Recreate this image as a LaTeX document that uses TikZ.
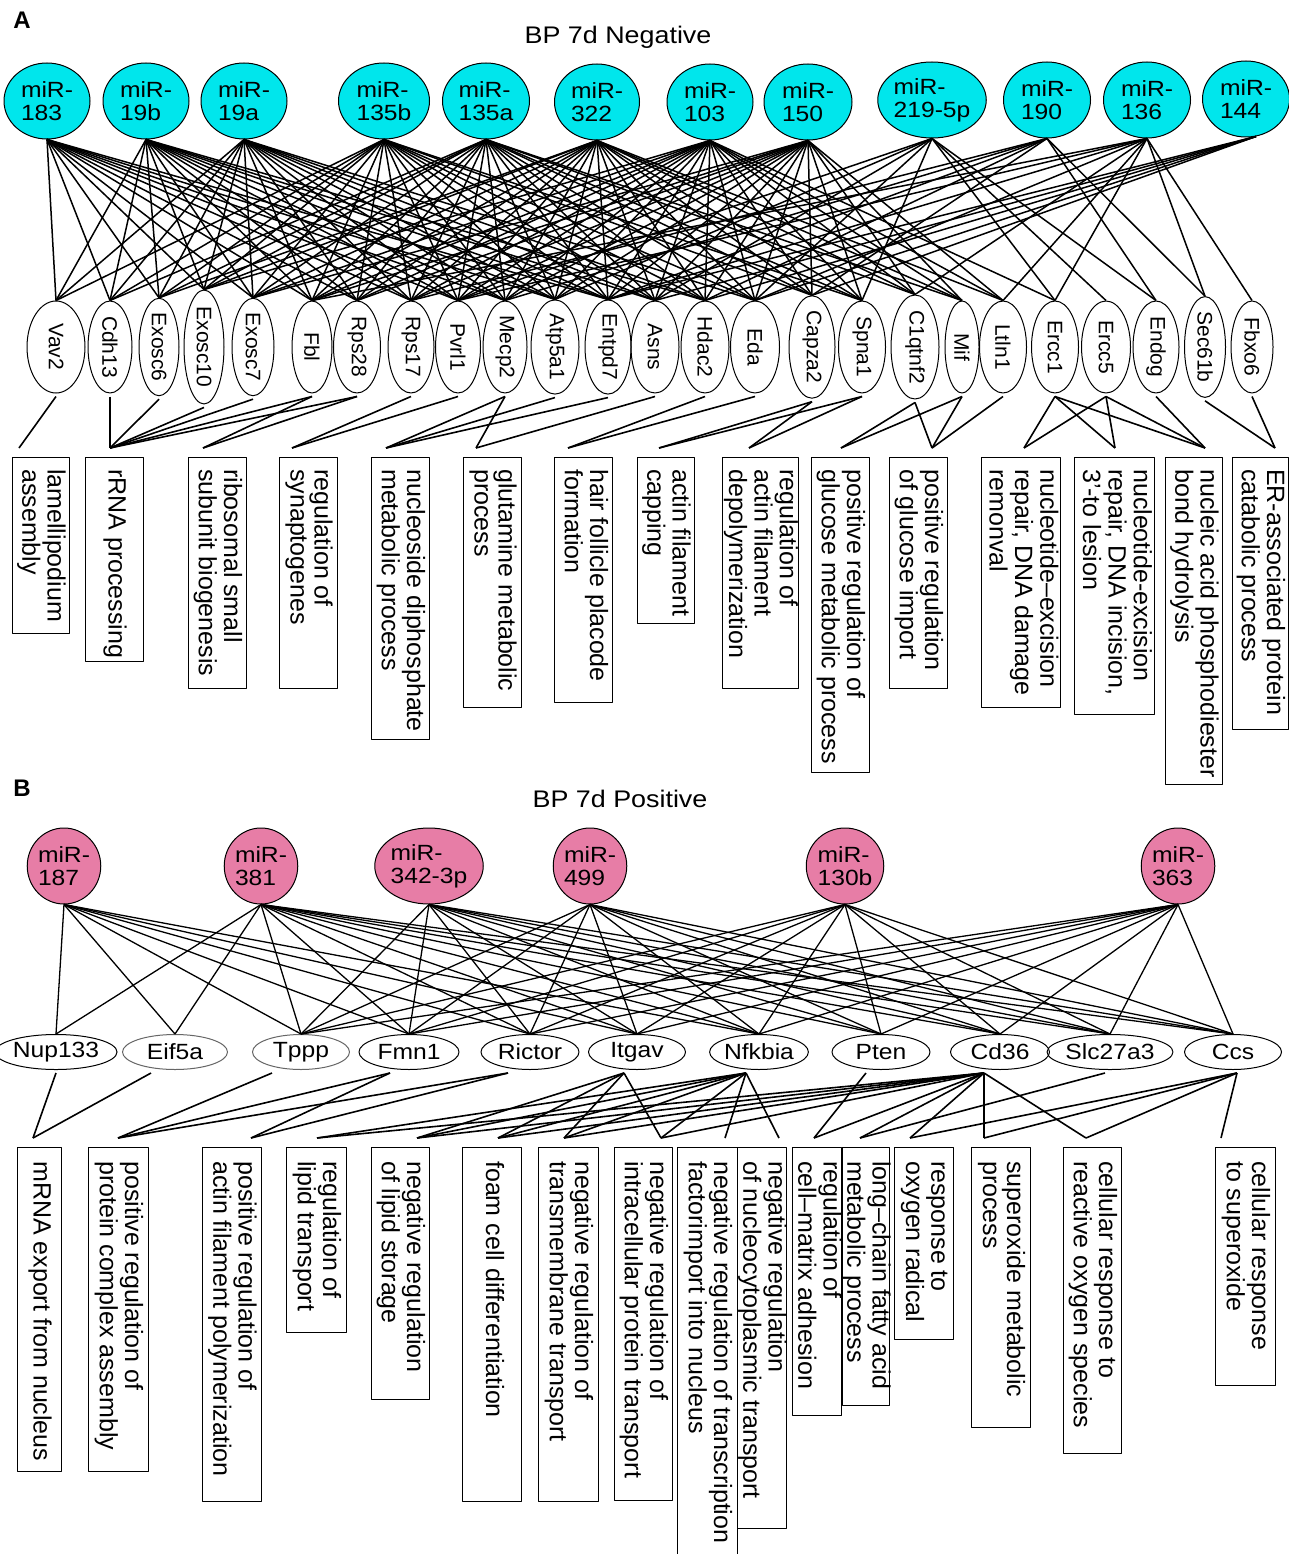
\documentclass[tikz,border=0pt]{standalone}
\usepackage{fontspec}
\setmainfont{Liberation Sans}
\newfontfamily\widefont[FakeStretch=1.12]{Liberation Sans}
\usetikzlibrary{shapes.geometric,calc}
\definecolor{mircyan}{RGB}{0,230,236}
\definecolor{mirpink}{RGB}{231,125,166}
\newcommand{\tlines}[1]{\begin{tabular}{@{}l@{}}#1\end{tabular}}
\begin{document}
\begin{tikzpicture}[x=1pt,y=-1pt,line join=round,
  mirA/.style={ellipse,draw,fill=mircyan,line width=1pt,inner sep=0pt,align=left,font=\widefont\fontsize{22}{23}\selectfont},
  mirB/.style={ellipse,draw,fill=mirpink,line width=1pt,inner sep=0pt,align=left,font=\widefont\fontsize{22}{23}\selectfont},
  geneA/.style={ellipse,draw,rotate=-90,line width=1pt,inner sep=0pt,minimum width=92pt,font=\fontsize{21}{21}\selectfont},
  geneB/.style={ellipse,draw,line width=1pt,inner sep=0pt,minimum height=35pt,font=\widefont\fontsize{22}{22}\selectfont},
  termbox/.style={draw,line width=1pt,inner sep=0pt,anchor=north},
  termtext/.style={rotate=-90,anchor=west,inner sep=0pt,font=\fontsize{25}{24}\selectfont},
  edgeA/.style={line width=1.5pt},
  edgeB/.style={line width=1.3pt},
  edgeT/.style={line width=1.6pt},
  ttl/.style={font=\widefont\fontsize{24}{24}\selectfont},
  panel/.style={font=\fontsize{24}{24}\selectfont\bfseries}
]
\fill[white] (0,0) rectangle (1289,1554);
\useasboundingbox (0,0) rectangle (1289,1554);

% ---------------- Panel A ----------------
\node[panel] (pA) at (22,20) {A};
\node[ttl] (tiA) at (618,37) {BP 7d Negative};

\foreach \n/\x/\y/\w/\t in {
 1/47/101/86/{miR-\\183},
 2/146/101/86/{miR-\\19b},
 3/244/101/86/{miR-\\19a},
 4/384/101/91/{miR-\\135b},
 5/486/101/87/{miR-\\135a},
 6/597/102/85/{miR-\\322},
 7/710/102/86/{miR-\\103},
 8/808/102/88/{miR-\\150},
 9/932/100/106/{miR-\\219-5p},
 10/1047/100/87/{miR-\\190},
 11/1147/100/87/{miR-\\136},
 12/1246/99/87/{miR-\\144}}
 \node[mirA,minimum width=\w pt,minimum height=76pt] (mA\n) at (\x,\y) {\t};

\foreach \i/\x/\w/\t in {
 1/56/58/Vav2, 2/110/44/Cdh13, 3/159/40/Exosc6, 4/204/40/Exosc10, 5/253/42/Exosc7,
 6/312/40/Fbl, 7/357/47/Rps28, 8/411/46/Rps17, 9/458/45/Pvrl1, 10/505/44/Mecp2,
 11/555/48/Atp5a1, 12/608/46/Entpd7, 13/655/48/Asns, 14/705/48/Hdac2, 15/755/49/Eda,
 16/812/46/Capza2, 17/862/47/Spna1, 18/915/48/C1qtnf2, 19/962/34/Mif, 20/1003/47/Ltln1,
 21/1055/47/Ercc1, 22/1106/49/Ercc5, 23/1156/46/Endog, 24/1205/41/Sec61b, 25/1252/42/Fbxo6}
 {
 \node[geneA,minimum height=\w pt] (gA\i) at (\x,347) {\t};
 \coordinate (sA\i) at ($(gA\i.east)+(0,3)$);
 }

% miRNA -> gene (panel A)
\foreach \m/\gs in {
 1/{1,2,3,4,5,6,7,8,9,10,11,12},
 2/{1,2,3,4,5,6,7,8,9,10,11,12,13,14},
 3/{1,2,3,4,5,6,7,8,9,10,11,12,13,14,15},
 4/{1,2,3,4,5,6,7,8,9,10,11,12,13,14,15,16,17},
 5/{2,3,4,5,6,7,8,9,10,11,12,13,14,15,16,17,18,19},
 6/{3,4,5,6,7,8,9,10,11,12,13,14,15,16,17,18,19,20},
 7/{4,5,6,7,8,9,10,11,12,13,14,15,16,17,18,19,20,21},
 8/{5,6,7,8,9,10,11,12,13,14,15,16,17,18,19,20},
 9/{9,11,13,15,17,21,22,23},
 10/{8,10,12,14,16,23,24},
 11/{6,9,12,15,18,20,21,24,25}}
 {\foreach \g in \gs {\draw[edgeA] (mA\m.south) -- (gA\g.west);}}
\foreach \g in {12,13,14,15,16}
 \draw[edgeA] (mA12.-75) -- (gA\g.west);

% terms A
\foreach \k/\x/\w/\b/\t in {
 1/40.5/57/633/{lamellipodium\\assembly},
 2/114/58/661/{rRNA processing},
 3/217/58/688/{ribosomal small\\subunit biogenesis},
 4/308/58/688/{regulation of\\synaptogenes},
 5/400/58/739/{nucleoside diphosphate\\metabolic process},
 6/492/58/707/{glutamine metabolic\\process},
 7/583/58/702/{hair follicle placode\\formation},
 8/665.5/57/623/{actin filament\\capping},
 9/760/76/688/{regulation of\\actin filament\\depolymerization},
 10/840/58/772/{positive regulation of\\glucose metabolic process},
 11/918/58/688/{positive regulation\\of glucose import},
 12/1020.5/79/707/{nucleotide–excision\\repair, DNA damage\\remonval},
 13/1114/80/714/{nucleotide-excision\\repair, DNA incision,\\3’-to lesion},
 14/1193.5/57/784/{nucleic acid phosphodiester\\bond hydrolysis},
 15/1260/56/729/{ER-associated protein\\catabolic process}}
 {
 \node[termbox,minimum width=\w pt,minimum height={(\b-457)*1pt}] (tA\k) at (\x,457) {};
 \node[termtext] (xA\k) at ($(tA\k.north)+(0,12)$) {\tlines{\t}};
 }

\foreach \k/\x in {1/19,2/110,3/203,4/292,5/386,6/476,7/568,8/659,9/749,10/841,11/932,12/1024,13/1115,14/1205,15/1275}
 \coordinate (cA\k) at (\x,448);

\foreach \g/\t in {1/1, 2/2, 3/2, 4/2, 5/2, 6/2, 7/2, 6/3, 7/3, 8/4, 9/4, 10/5, 11/5, 12/5,
 10/6, 13/6, 14/7, 15/7, 16/8, 17/8, 16/9, 17/9, 18/10, 19/10, 18/11, 19/11, 20/11,
 21/12, 22/12, 21/13, 22/13, 21/14, 22/14, 23/14, 24/15, 25/15}
 \draw[edgeT] (sA\g) -- (cA\t);

% ---------------- Panel B ----------------
\node[panel] (pB) at (22,788) {B};
\node[ttl] (tiB) at (620,799) {BP 7d Positive};

\foreach \n/\x/\w/\t in {
 1/64/64/{miR-\\187},
 2/261/61/{miR-\\381},
 3/429/92/{miR-\\342-3p},
 4/590/64/{miR-\\499},
 5/845/72/{miR-\\130b},
 6/1178/65/{miR-\\363}}
 \node[mirB,minimum width=\w pt,minimum height=76pt] (mB\n) at (\x,866) {\t};

\foreach \i/\x/\w/\t/\dx/\c in {
 1/56/96/Nup133/0/black, 2/175/105/Eif5a/-24/black!60, 3/301/97/Tppp/-29/black!60, 4/409/100/Fmn1/-19/black,
 5/530/98/Rictor/-22/black, 6/637/97/Itgav/-13/black, 7/759/98/Nfkbia/-13/black, 8/881/98/Pten/-15/black,
 9/1000/99/Cd36/-16/black, 10/1110/99/Slc27a3/-5/black, 11/1233/97/Ccs/4/black}
 {
 \node[geneB,draw=\c,minimum width=\w pt] (gB\i) at (\x,1052) {\t};
 \coordinate (sB\i) at ($(gB\i.south)+(\dx,3)$);
 }

\foreach \m/\gs in {
 1/{1,2,3,4,5,6,7},
 2/{1,2,3,4,5,6,7,8,9,10,11},
 3/{3,4,5,6,7,8,9,10,11},
 4/{3,4,5,6,7,8,9,10,11},
 5/{3,4,5,6,7,8,9,10,11},
 6/{3,4,5,6,7,8,9,10,11}}
 {\foreach \g in \gs {\draw[edgeB] (mB\m.south) -- (gB\g.north);}}

\foreach \k/\x/\w/\b/\t in {
 1/39/44/1471/{mRNA export from nucleus},
 2/118/60/1471/{positive regulation of\\protein complex assembly},
 3/231.5/59/1501/{positive regulation of\\actin filament polymerization},
 4/316/60/1332/{regulation of\\lipid transport},
 5/400/58/1399/{negative regulation\\of lipid storage},
 6/491.5/59/1501/{foam cell differentiation},
 7/568/60/1501/{negative regulation of\\transmembrane transport},
 8/643/58/1500/{negative regulation of\\intracellular protein transport},
 9/707/60/1562/{negative regulation of transcription\\factorimport into nucleus},
 10/761.5/49/1528/{negative regulation\\of nucleocytoplasmic transport},
 11/816.5/49/1415/{regulation of\\cell–matrix adhesion},
 12/865.5/47/1405/{long–chain fatty acid\\metabolic process},
 13/923.5/59/1339/{response to\\oxygen radical},
 14/1000.5/59/1427/{superoxide metabolic\\process},
 15/1092/58/1453/{cellular response to\\reactive oxygen species},
 16/1245/60/1385/{cellular response\\to superoxide}}
 {
 \node[termbox,minimum width=\w pt,minimum height={(\b-1147)*1pt}] (tB\k) at (\x,1147) {};
 \node[termtext] (xB\k) at ($(tB\k.north)+(0,14)$) {\tlines{\t}};
 }

\foreach \k/\x in {1/33,2/118,3/251,4/317,5/417,6/498,7/564,8/661,9/725,10/779,11/814,12/860,13/910,14/984,15/1086,16/1221}
 \coordinate (cB\k) at (\x,1138);

\foreach \g/\t in {1/1, 2/1, 3/2, 4/2, 4/3, 5/2, 5/3, 6/5, 6/6, 6/7, 6/8,
 7/4, 7/5, 7/6, 7/7, 7/8, 7/9, 7/10, 8/11, 9/4, 9/5, 9/6, 9/7, 9/8, 9/11,
 9/12, 9/13, 9/14, 9/15, 10/12, 11/13, 11/14, 11/15, 11/16}
 \draw[edgeT] (sB\g) -- (cB\t);

\end{tikzpicture}
\end{document}
